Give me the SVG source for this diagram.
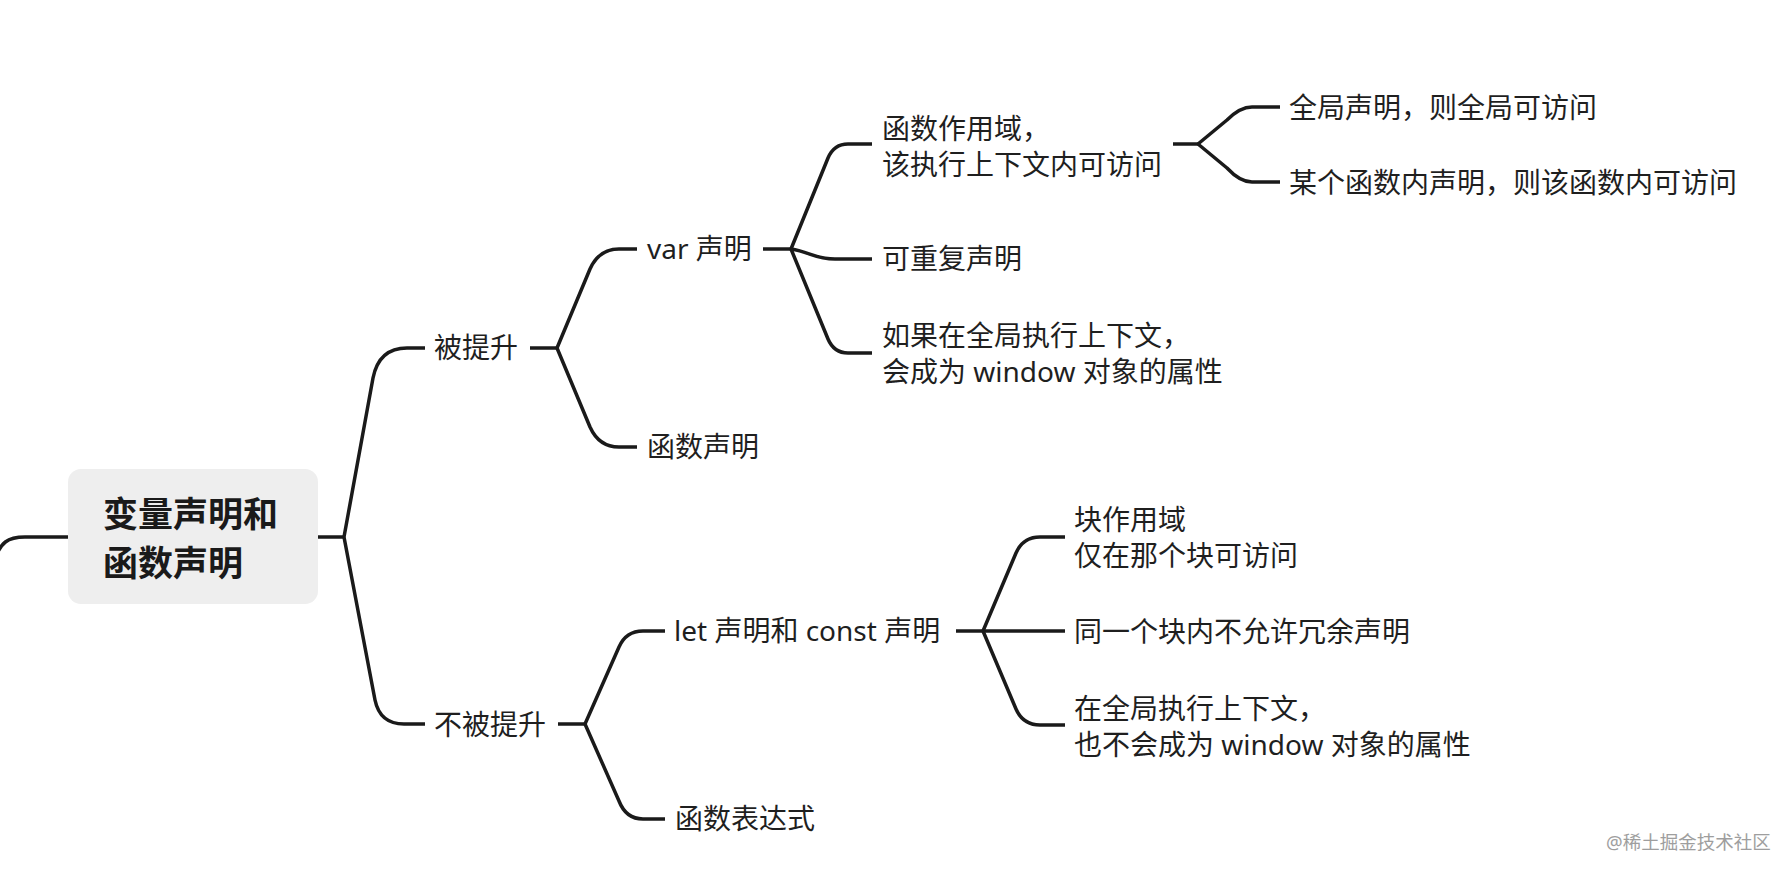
<svg xmlns="http://www.w3.org/2000/svg" width="1790" height="874" viewBox="0 0 1790 874">
<style>
.t{font-family:"Noto Sans","Noto Sans CJK SC",sans-serif;font-size:28px;fill:#1f1f1f}
.root{font-family:"Noto Sans CJK SC","Noto Sans",sans-serif;font-size:35px;font-weight:bold;fill:#1a1a1a}
.c path{fill:none;stroke:#1a1a1a;stroke-width:3.5;stroke-linejoin:round;stroke-linecap:butt}
.wm{font-family:"Noto Sans","Noto Sans CJK SC",sans-serif;font-size:18.5px;fill:#9e9e9e}
</style>
<rect width="1790" height="874" fill="#ffffff"/>
<g class="c" id="connectors">
<path d="M-6,562 C0,542 8,537 25,537 L68,537"/>
<path d="M318,537 L344,537"/>
<path d="M344,537 L373,378 Q379,348 407,348 L425,348"/>
<path d="M344,537 L375,700 Q380,724 404,724 L425,724"/>
<path d="M530,348 L557,348"/>
<path d="M557,348 L590,269 Q599,249 619,249 L637,249"/>
<path d="M557,348 L590,427 Q599,447 619,447 L637,447"/>
<path d="M763,249 L791,249"/>
<path d="M791,249 L828,158 Q834,144 848,144 L872,144"/>
<path d="M791,249 C810,252 815,259 835,259 L872,259"/>
<path d="M791,249 L828,339 Q834,353 848,353 L872,353"/>
<path d="M1173,144 L1198,144"/>
<path d="M1198,144 L1227,120 Q1240,107 1252,107 L1280,107"/>
<path d="M1198,144 L1227,168 Q1240,182 1252,182 L1280,182"/>
<path d="M558,724 L585,724"/>
<path d="M585,724 L619,647 Q626,631 643,631 L665,631"/>
<path d="M585,724 L619,801 Q626,819 643,819 L665,819"/>
<path d="M956,631 L983,631"/>
<path d="M983,631 L1016,553 Q1023,537 1040,537 L1065,537"/>
<path d="M983,631 L1065,631"/>
<path d="M983,631 L1016,709 Q1023,725 1040,725 L1065,725"/>
</g>
<g id="root">
<rect x="68" y="469" width="250" height="135" rx="13" fill="#eeeeee"/>
<text class="root" x="103" y="527">变量声明和</text>
<text class="root" x="103" y="576">函数声明</text>
</g>
<g id="n-hoisted"><text class="t" x="434" y="358">被提升</text></g>
<g id="n-var"><text class="t" x="647" y="259">var 声明</text></g>
<g id="n-funcdecl"><text class="t" x="647" y="457">函数声明</text></g>
<g id="n-funcscope"><text class="t" x="882" y="139">函数作用域，</text><text class="t" x="882" y="175">该执行上下文内可访问</text></g>
<g id="n-redecl"><text class="t" x="882" y="269">可重复声明</text></g>
<g id="n-window"><text class="t" x="882" y="346">如果在全局执行上下文，</text><text class="t" x="882" y="382">会成为 window 对象的属性</text></g>
<g id="n-global"><text class="t" x="1289" y="118">全局声明，则全局可访问</text></g>
<g id="n-infunc"><text class="t" x="1289" y="193">某个函数内声明，则该函数内可访问</text></g>
<g id="n-nothoisted"><text class="t" x="434" y="735">不被提升</text></g>
<g id="n-letconst"><text class="t" x="674" y="641">let 声明和 const 声明</text></g>
<g id="n-funcexpr"><text class="t" x="675" y="829">函数表达式</text></g>
<g id="n-block"><text class="t" x="1074" y="530">块作用域</text><text class="t" x="1074" y="566">仅在那个块可访问</text></g>
<g id="n-noredecl"><text class="t" x="1074" y="642">同一个块内不允许冗余声明</text></g>
<g id="n-nowindow"><text class="t" x="1074" y="719">在全局执行上下文，</text><text class="t" x="1074" y="755">也不会成为 window 对象的属性</text></g>
<text class="wm" x="1606" y="849">@稀土掘金技术社区</text>
</svg>
